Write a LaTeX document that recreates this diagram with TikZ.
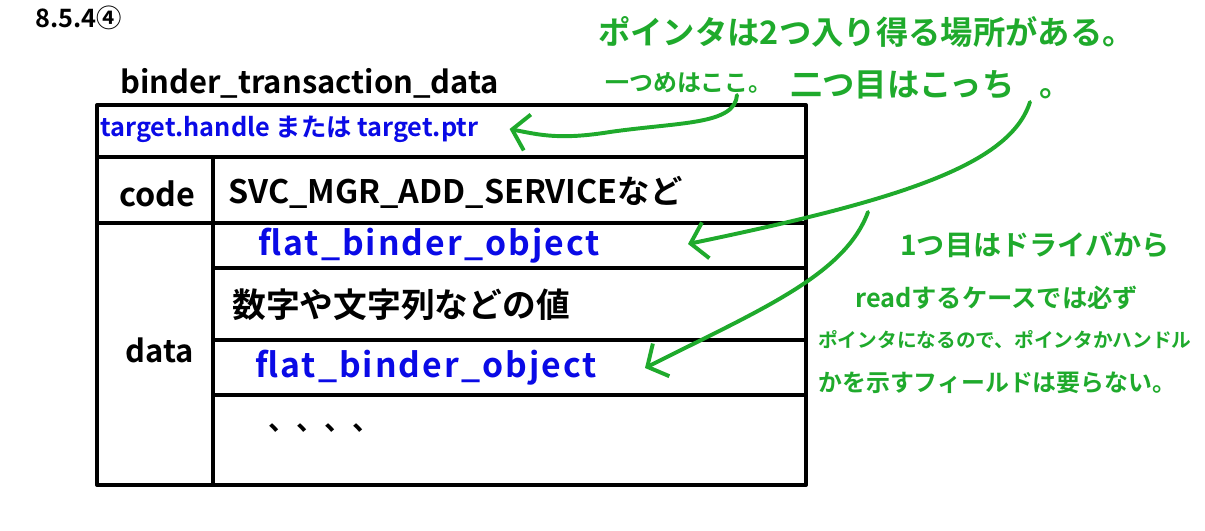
\documentclass[tikz,border=0pt]{standalone}
\usepackage{fontspec}
\setmainfont{Noto Sans CJK JP}[BoldFont={Noto Sans CJK JP Bold}]
\usepackage{tikz}
\usetikzlibrary{calc, positioning, arrows.meta}
\tikzset{>={Straight Barb[length=11pt,width=26pt]}}
\definecolor{myblue}{HTML}{0A0AE6}
\definecolor{mygreen}{HTML}{1FAA2C}
\newcommand{\fsz}[1]{\fontsize{#1}{#1}\selectfont}
\newcommand{\spaced}{\addfontfeatures{LetterSpace=6}}
\tikzset{
  frame/.style={line width=2.8pt, line cap=round, line join=round},
  cell/.style={anchor=west, inner sep=0pt, font=\bfseries},
  field/.style={cell, myblue},
  note/.style={cell, mygreen},
  garrow/.style={->, mygreen, line width=2.8pt, line cap=round},
}

\begin{document}
\begin{tikzpicture}[x=0.025cm, y=-0.025cm]
\useasboundingbox (0,0) rectangle (1205,531);
% heading and struct name
\node[cell] (sec) at (35,18) {\fsz{18}8.5.4④};
\node[cell] (title) at (120,83) {\fsz{22}binder\_transaction\_data};
% table frame
\draw[frame] (97,105) rectangle (806,485);
\draw[frame] (97,157) -- (806,157);
\draw[frame] (97,223) -- (806,223);
\draw[frame] (213,157) -- (213,485);
\foreach \y in {268,340,395}
  \draw[frame] (213,\y) -- (806,\y);
% fields
\node[field] (target) at (100,129) {\fsz{18}target.handle または target.ptr};
\node[cell, anchor=center] (code) at (157,194) {\fsz{23}code};
\node[cell] (codeval) at (228,192) {\fsz{23}SVC\_MGR\_ADD\_SERVICEなど};
\node[cell, anchor=center] (data) at (160,350) {\fsz{22}data};
\node[field] (fbo1) at (258,246) {\fsz{24}\spaced flat\_binder\_object};
\node[cell] (value) at (232,305) {\fsz{24}数字や文字列などの値};
\node[field] (fbo2) at (255,368) {\fsz{24}\spaced flat\_binder\_object};
\node[cell] (rest) at (268,428) {\fsz{20}、、、、};
% notes
\node[note] (head) at (598,32) {\fsz{23}ポインタは2つ入り得る場所がある。};
\node[note] (first) at (605,83) {\fsz{17}一つめはここ。};
\node[note] (second) at (790,85) {\fsz{23}二つ目はこっち\hspace{18pt}。};
\node[note] (why1) at (900,245) {\fsz{20}1つ目はドライバから};
\node[note] (why2) at (855,298) {\fsz{18}readするケースでは必ず};
\node[note] (why3) at (818,340) {\fsz{14}ポインタになるので、ポインタかハンドル};
\node[note] (why4) at (818,383) {\fsz{17}かを示すフィールドは要らない。};
% arrows
\coordinate (here) at (737,95);
\coordinate (there) at (1030,102);
\coordinate (branch) at (868,212);
\draw[garrow] (here) .. controls (735,125) and (680,122) .. (610,132)
  .. controls (560,140) and (540,135) .. ($(target.east)+(31,0)$);
\draw[garrow] (there) .. controls (1010,165) and (900,200) .. ($(fbo1.east)+(88,-2)$);
\draw[garrow] (branch) .. controls (845,275) and (760,310) .. ($(fbo2.east)+(48,0)$);
\end{tikzpicture}
\end{document}
